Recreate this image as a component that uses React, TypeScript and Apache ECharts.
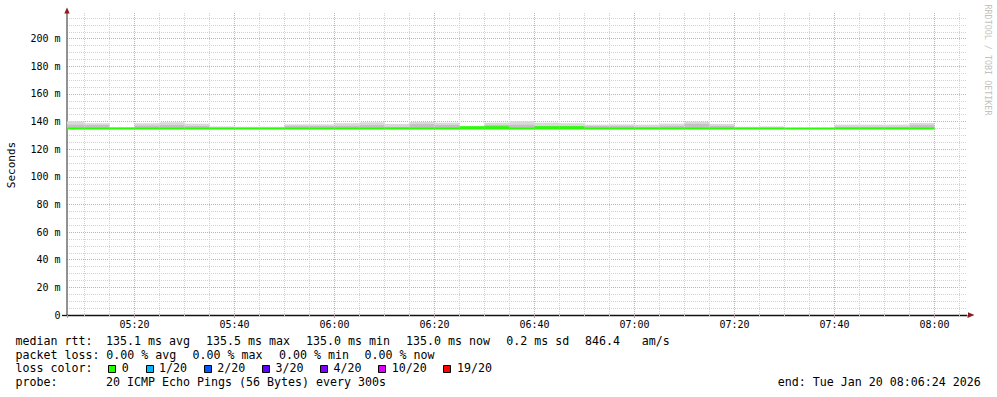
import React, { useEffect, useRef } from 'react';
import * as echarts from 'echarts';

// ---- data (5-minute consolidation steps, start time of each step) ----
const slotStart = [
  '05:05', '05:10', '05:15', '05:20', '05:25', '05:30', '05:35', '05:40', '05:45', '05:50',
  '05:55', '06:00', '06:05', '06:10', '06:15', '06:20', '06:25', '06:30', '06:35', '06:40',
  '06:45', '06:50', '06:55', '07:00', '07:05', '07:10', '07:15', '07:20', '07:25', '07:30',
  '07:35', '07:40', '07:45', '07:50', '07:55',
];
const lastSlotEnd = '08:00';
// median rtt (ms)
const medianRtt = [
  135.0, 135.0, 135.0, 135.0, 135.0, 135.0, 135.0, 135.0, 135.0, 135.0,
  135.0, 135.0, 135.0, 135.0, 135.0, 135.0, 135.5, 135.5, 135.0, 135.5,
  135.5, 135.0, 135.0, 135.0, 135.0, 135.0, 135.0, 135.0, 135.0, 135.0,
  135.0, 135.0, 135.0, 135.0, 135.0,
];
// smoke: lowest ping (ms)
const smokeMin = [
  135.0, 135.0, 135.0, 135.0, 135.0, 135.0, 135.0, 135.0, 135.0, 135.0,
  135.0, 135.0, 135.0, 135.0, 135.0, 135.0, 135.0, 135.0, 135.0, 135.0,
  135.0, 135.0, 135.0, 135.0, 135.0, 135.0, 135.0, 135.0, 135.0, 135.0,
  135.0, 135.0, 135.0, 135.0, 135.0,
];
// smoke: inner (denser) band top (ms)
const smokeMid = [
  138.0, 137.5, 135.5, 137.3, 137.8, 137.0, 135.8, 135.6, 135.6, 137.2,
  137.0, 137.2, 137.5, 136.5, 138.2, 137.8, 136.0, 137.5, 138.0, 137.0,
  137.0, 136.8, 136.8, 136.5, 137.2, 138.5, 137.0, 135.7, 135.8, 135.2,
  135.2, 136.5, 136.5, 136.5, 137.5,
];
// smoke: highest ping (ms)
const smokeMax = [
  140.2, 138.8, 136.0, 138.8, 139.5, 138.5, 136.5, 136.3, 136.3, 138.0,
  138.0, 138.8, 139.5, 138.3, 139.7, 139.2, 136.5, 139.2, 140.2, 139.2,
  138.8, 137.8, 138.0, 137.8, 138.5, 140.0, 138.3, 136.3, 136.5, 135.5,
  135.5, 137.8, 137.8, 137.8, 139.0,
];
const xStart = '05:06:30';
const xEnd = '08:06:30';
const yMax = 218.6;

const rttLegend = ['135.1 ms avg', '135.5 ms max', '135.0 ms min', '135.0 ms now', '0.2 ms sd', '846.4', 'am/s'];
const lossLegend = ['0.00 % avg', '0.00 % max', '0.00 % min', '0.00 % now'];
const lossLabels = ['0', '1/20', '2/20', '3/20', '4/20', '10/20', '19/20'];
const lossColors = ['#26ff00', '#00b8ff', '#0059ff', '#5e00ff', '#7e00ff', '#dd00ff', '#ff0000'];
const probeText = '20 ICMP Echo Pings (56 Bytes) every 300s';
const endText = 'end: Tue Jan 20 08:06:24 2026';

const toMin = (s: string) => {
  const p = s.split(':').map(Number);
  return p[0] * 60 + p[1] + (p[2] || 0) / 60;
};
const pad = (n: number) => (n < 10 ? '0' : '') + n;
const fmtTime = (v: number) => {
  const m = Math.round(v);
  return pad(Math.floor(m / 60)) + ':' + pad(m % 60);
};

const MONO = '"DejaVu Sans Mono", monospace';
const LEG_FS = 11.63;
const CW = 7.0;

export default function App() {
  const ref = useRef<HTMLDivElement>(null);
  useEffect(() => {
    document.body.style.margin = '0';
    const chart = echarts.init(ref.current!, null, { renderer: 'svg' });

    const slotEnds = slotStart.map((_, i) => (i + 1 < slotStart.length ? slotStart[i + 1] : lastSlotEnd));
    const smokeData = slotStart.map((t, i) => [toMin(t), toMin(slotEnds[i]), smokeMin[i], smokeMid[i], smokeMax[i]]);
    const medianData = slotStart.map((t, i) => [toMin(t), toMin(slotEnds[i]), smokeMin[i], medianRtt[i]]);

    const txt = (text: string, x: number, y: number, extra: any = {}) => ({
      type: 'text',
      x,
      y,
      silent: true,
      style: {
        text,
        fill: '#000',
        fontFamily: MONO,
        fontSize: LEG_FS,
        textAlign: 'left',
        textVerticalAlign: 'middle',
        ...extra,
      },
    });

    const L1 = 341, L2 = 354.7, L3 = 368.4, L4 = 382;
    const graphics: any[] = [];
    graphics.push(txt('median rtt:', 15.5, L1));
    const rttX = [106, 206, 306, 406, 506.2, 585, 641.8];
    rttLegend.forEach((s, i) => graphics.push(txt(s, rttX[i], L1)));
    graphics.push(txt('packet loss:', 15.5, L2));
    const lossX = [106.2, 192.6, 278.9, 364.6];
    lossLegend.forEach((s, i) => graphics.push(txt(s, lossX[i], L2)));
    graphics.push(txt('loss color:', 15.5, L3));
    let bx = 108.3;
    lossLabels.forEach((s, i) => {
      graphics.push({
        type: 'rect',
        silent: true,
        shape: { x: Math.round(bx) + 0.5, y: 365.5, width: 7, height: 7 },
        style: { fill: lossColors[i], stroke: '#000', lineWidth: 1 },
      });
      const tx = bx + 13.5;
      graphics.push(txt(s, tx, L3));
      bx = tx + s.length * CW + 16.7;
    });
    graphics.push(txt('probe:', 15.5, L4));
    graphics.push(txt(probeText, 106, L4));
    graphics.push(txt(endText, 980.8, L4, { textAlign: 'right' }));
    graphics.push({
      type: 'text', x: 11, y: 165, rotation: Math.PI / 2, silent: true,
      style: { text: 'Seconds', fill: '#000', fontFamily: MONO, fontSize: 11, textAlign: 'center', textVerticalAlign: 'middle' },
    });
    graphics.push({
      type: 'text', x: 988, y: 60, rotation: -Math.PI / 2, silent: true,
      style: { text: 'RRDTOOL / TOBI OETIKER', fill: '#c2c2c2', fontFamily: MONO, fontSize: 8.4, textAlign: 'center', textVerticalAlign: 'middle' },
    });
    graphics.push({
      type: 'polygon', silent: true, z: 100,
      shape: { points: [[67, 7.5], [64.3, 13.5], [69.7, 13.5]] },
      style: { fill: '#8e1b1b' },
    });
    graphics.push({
      type: 'polygon', silent: true, z: 100,
      shape: { points: [[974.5, 315], [968, 312.3], [968, 317.7]] },
      style: { fill: '#8e1b1b' },
    });
    graphics.push({
      type: 'line', silent: true,
      shape: { x1: 62, y1: 315.5, x2: 67, y2: 315.5 },
      style: { stroke: '#111', lineWidth: 1.3 },
    });

    const GRID = '#d2d2d2';
    const MGRID = '#dca6a6';

    const clipX = (cs: any, x: number) => Math.min(Math.max(x, cs.x), cs.x + cs.width);

    chart.setOption({
      animation: false,
      backgroundColor: '#ffffff',
      textStyle: { fontFamily: MONO },
      grid: { left: 67, top: 13, width: 900, height: 302, containLabel: false },
      xAxis: {
        type: 'value',
        min: toMin(xStart),
        max: toMin(xEnd),
        minInterval: 20,
        maxInterval: 20,
        axisLine: { show: true, lineStyle: { color: '#111', width: 1.3 } },
        axisTick: { show: true, length: 3, lineStyle: { color: '#d48f8f', width: 1 } },
        axisLabel: {
          showMinLabel: false,
          showMaxLabel: false,
          formatter: (v: number) => fmtTime(v),
          fontFamily: MONO,
          fontSize: 10,
          color: '#000',
          margin: 3.5,
          lineHeight: 12,
        },
        splitLine: { show: true, showMinLine: false, showMaxLine: false, lineStyle: { color: MGRID, type: [1, 1], width: 1 } },
        minorTick: { show: true, splitNumber: 4, length: 2, lineStyle: { color: '#c4c4c4', width: 1 } },
        minorSplitLine: { show: true, lineStyle: { color: GRID, type: [1, 1], width: 1 } },
      },
      yAxis: {
        type: 'value',
        min: 0,
        max: yMax,
        minInterval: 20,
        maxInterval: 20,
        axisLine: { show: true, lineStyle: { color: '#6e6e6e', width: 1.5 } },
        axisTick: { show: false },
        axisLabel: {
          showMaxLabel: false,
          formatter: (v: number) => (v === 0 ? '0' : `${v} m`),
          fontFamily: MONO,
          fontSize: 10,
          color: '#000',
          margin: 6.5,
        },
        splitLine: { show: true, showMinLine: false, showMaxLine: false, lineStyle: { color: MGRID, type: [1, 1], width: 1 } },
        minorTick: { show: false, splitNumber: 4 },
        minorSplitLine: { show: true, lineStyle: { color: GRID, type: [1, 1], width: 1 } },
      },
      series: [
        {
          type: 'custom',
          name: 'smoke',
          clip: true,
          z: 2,
          silent: true,
          encode: { x: [0, 1], y: [2, 3, 4] },
          data: smokeData,
          renderItem: (params: any, api: any) => {
            const cs = params.coordSys;
            const t0 = api.value(0), t1 = api.value(1);
            const lo = api.value(2), mid = api.value(3), hi = api.value(4);
            const a = api.coord([t0, lo]);
            const b = api.coord([t1, mid]);
            const c = api.coord([t1, hi]);
            const x0 = clipX(cs, a[0]);
            const x1 = clipX(cs, b[0]);
            return {
              type: 'group',
              children: [
                { type: 'rect', shape: { x: x0, y: c[1], width: x1 - x0, height: b[1] - c[1] }, style: { fill: '#d9d9d9' } },
                { type: 'rect', shape: { x: x0, y: b[1], width: x1 - x0, height: a[1] - b[1] }, style: { fill: '#c2c2c2' } },
              ],
            };
          },
        },
        {
          type: 'custom',
          name: 'median rtt',
          clip: true,
          z: 3,
          silent: true,
          encode: { x: [0, 1], y: [2, 3] },
          data: medianData,
          renderItem: (params: any, api: any) => {
            const cs = params.coordSys;
            const t0 = api.value(0), t1 = api.value(1);
            const lo = api.value(2), med = api.value(3);
            const a = api.coord([t0, lo]);
            const b = api.coord([t1, med]);
            const x0 = clipX(cs, a[0]);
            const x1 = clipX(cs, b[0]);
            const top = b[1] - (med > lo ? 1.6 : 1);
            const bottom = a[1] + 1;
            return {
              type: 'rect',
              shape: { x: x0, y: top, width: x1 - x0, height: bottom - top },
              style: { fill: lossColors[0] },
            };
          },
        },
      ],
      graphic: graphics,
    });
    return () => chart.dispose();
  }, []);
  return <div ref={ref} style={{ position: 'absolute', left: 0, top: 0, width: 997, height: 397, background: '#fff' }} />;
}
